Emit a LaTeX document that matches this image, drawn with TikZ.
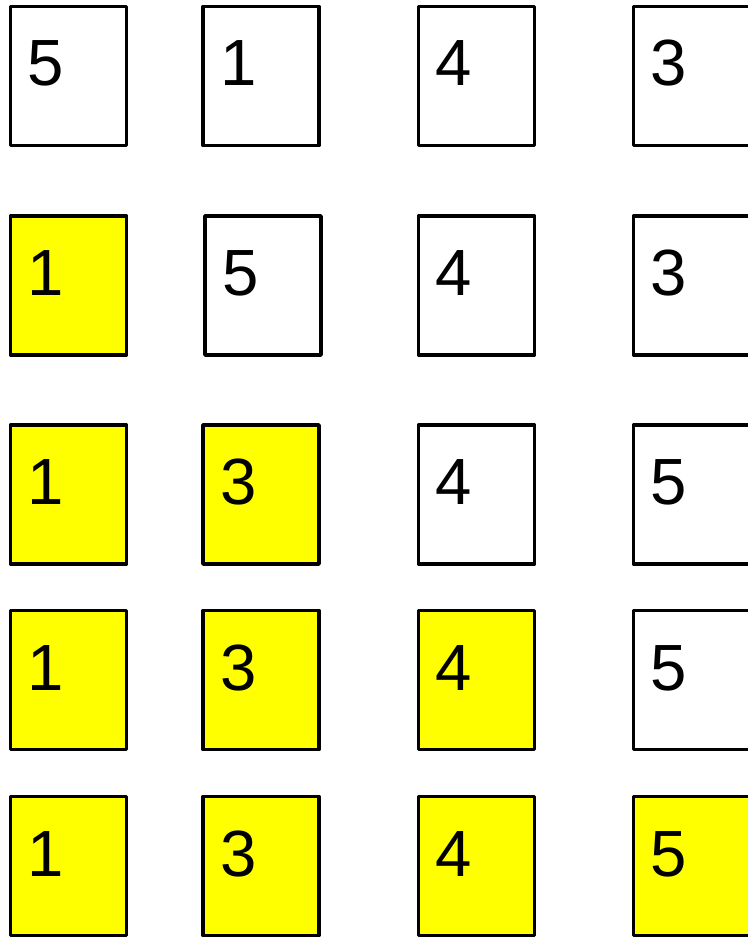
\documentclass[tikz,border=0pt]{standalone}
\usepackage{fontspec}
\setmainfont{Liberation Sans}
\usepackage{xcolor}
\usepackage{tikz}
\definecolor{doneyellow}{HTML}{FFFF00}

\tikzset{
  card/.style={draw,line width=2.8pt,line join=round,fill=white,inner xsep=13pt,inner ysep=0pt,
    text width=61pt,align=left,text height=59.625pt,text depth=44.625pt,
    font=\fontsize{49}{59}\selectfont},
  done/.style={card,fill=doneyellow}
}

\begin{document}
\begin{tikzpicture}[x=0.75pt,y=-0.75pt]
        \useasboundingbox (0,0) rectangle (748,937);
        \clip (0,0) rectangle (748,937);
        % pass 0
        \node[card] (a1) at (68.5,76) {5};
        \node[card] (a2) at (261,76) {1};
        \node[card] (a3) at (476.5,76) {4};
        \node[card] (a4) at (691.5,76) {3};
        % pass 1
        \node[done] (b1) at (68.5,285.5) {1};
        \node[card] (b2) at (263,285.5) {5};
        \node[card] (b3) at (476.5,285.5) {4};
        \node[card] (b4) at (691.5,285.5) {3};
        % pass 2
        \node[done] (c1) at (68.5,494.5) {1};
        \node[done] (c2) at (261,494.5) {3};
        \node[card] (c3) at (476.5,494.5) {4};
        \node[card] (c4) at (691.5,494.5) {5};
        % pass 3
        \node[done] (d1) at (68.5,680) {1};
        \node[done] (d2) at (261,680) {3};
        \node[done] (d3) at (476.5,680) {4};
        \node[card] (d4) at (691.5,680) {5};
        % pass 4
        \node[done] (e1) at (68.5,866) {1};
        \node[done] (e2) at (261,866) {3};
        \node[done] (e3) at (476.5,866) {4};
        \node[done] (e4) at (691.5,866) {5};
      \end{tikzpicture}
\end{document}
